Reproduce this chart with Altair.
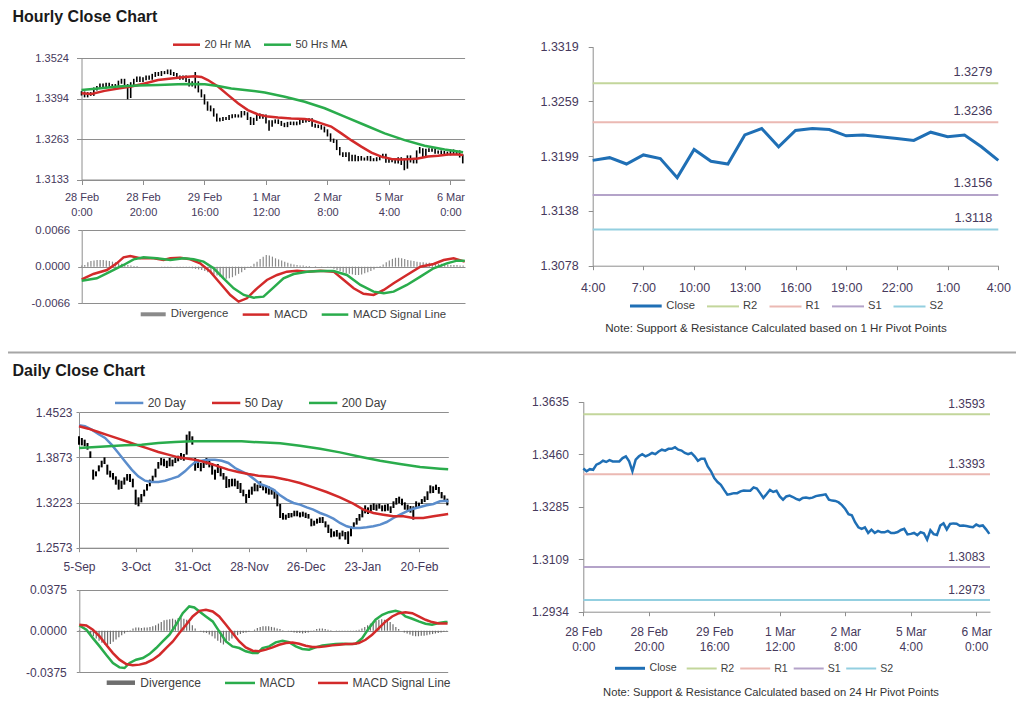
import math
import altair as alt
import pandas as pd

# ------------------------------------------------------------------ data
section_titles = ["Hourly Close Chart", "Daily Close Chart"]
notes = ["Note: Support & Resistance Calculated based on 1 Hr Pivot Points",
         "Note: Support & Resistance Calculated based on 24 Hr Pivot Points"]

hourly_tick_pos = [0, 20, 40, 60, 80, 100, 120]
hourly_tick_labels = ["28 Feb|0:00", "28 Feb|20:00", "29 Feb|16:00", "1 Mar|12:00",
                      "2 Mar|8:00", "5 Mar|4:00", "6 Mar|0:00"]
session_tick_pos = [0, 3, 6, 9, 12, 15, 18, 21, 24]
session_tick_labels = ["4:00", "7:00", "10:00", "13:00", "16:00", "19:00", "22:00", "1:00", "4:00"]
daily_tick_pos = [0, 20, 40, 60, 80, 100, 120]
daily_tick_labels = ["5-Sep", "3-Oct", "31-Oct", "28-Nov", "26-Dec", "23-Jan", "20-Feb"]

hour_idx = list(range(125))
hourly_close = [
    1.3412, 1.3403, 1.3410, 1.3408, 1.3425, 1.3430, 1.3438, 1.3434, 1.3440, 1.3436,
    1.3436, 1.3436, 1.3447, 1.3453, 1.3436, 1.3403, 1.3442, 1.3453, 1.3460, 1.3453,
    1.3458, 1.3464, 1.3460, 1.3469, 1.3475, 1.3472, 1.3478, 1.3478, 1.3483, 1.3475,
    1.3472, 1.3464, 1.3460, 1.3464, 1.3453, 1.3438, 1.3445, 1.3445, 1.3419, 1.3403,
    1.3380, 1.3367, 1.3358, 1.3341, 1.3325, 1.3327, 1.3330, 1.3330, 1.3336, 1.3339,
    1.3338, 1.3338, 1.3349, 1.3345, 1.3330, 1.3314, 1.3327, 1.3341, 1.3334, 1.3338,
    1.3319, 1.3308, 1.3319, 1.3322, 1.3317, 1.3311, 1.3307, 1.3314, 1.3315, 1.3313,
    1.3315, 1.3320, 1.3322, 1.3324, 1.3326, 1.3308, 1.3305, 1.3304, 1.3299, 1.3290,
    1.3277, 1.3260, 1.3256, 1.3233, 1.3216, 1.3211, 1.3216, 1.3197, 1.3208, 1.3197,
    1.3204, 1.3199, 1.3199, 1.3204, 1.3197, 1.3197, 1.3200, 1.3207, 1.3211, 1.3192,
    1.3194, 1.3197, 1.3190, 1.3200, 1.3196, 1.3175, 1.3206, 1.3193, 1.3190, 1.3222,
    1.3229, 1.3209, 1.3227, 1.3229, 1.3228, 1.3221, 1.3222, 1.3220, 1.3218, 1.3216,
    1.3225, 1.3220, 1.3222, 1.3209, 1.3194]
hourly_high = [
    1.3418, 1.3417, 1.3415, 1.3415, 1.3430, 1.3435, 1.3443, 1.3443, 1.3445, 1.3445,
    1.3441, 1.3441, 1.3452, 1.3458, 1.3458, 1.3441, 1.3447, 1.3458, 1.3465, 1.3465,
    1.3463, 1.3469, 1.3469, 1.3474, 1.3480, 1.3480, 1.3483, 1.3483, 1.3488, 1.3488,
    1.3480, 1.3477, 1.3469, 1.3469, 1.3469, 1.3458, 1.3450, 1.3480, 1.3450, 1.3424,
    1.3408, 1.3385, 1.3372, 1.3363, 1.3346, 1.3332, 1.3335, 1.3335, 1.3341, 1.3344,
    1.3344, 1.3343, 1.3354, 1.3354, 1.3350, 1.3335, 1.3332, 1.3346, 1.3346, 1.3343,
    1.3343, 1.3324, 1.3324, 1.3327, 1.3327, 1.3322, 1.3316, 1.3319, 1.3320, 1.3320,
    1.3320, 1.3325, 1.3327, 1.3329, 1.3331, 1.3331, 1.3313, 1.3310, 1.3309, 1.3304,
    1.3295, 1.3282, 1.3265, 1.3261, 1.3238, 1.3221, 1.3221, 1.3221, 1.3213, 1.3213,
    1.3209, 1.3209, 1.3204, 1.3209, 1.3209, 1.3202, 1.3205, 1.3212, 1.3216, 1.3216,
    1.3199, 1.3202, 1.3202, 1.3205, 1.3205, 1.3201, 1.3211, 1.3211, 1.3198, 1.3227,
    1.3238, 1.3234, 1.3232, 1.3234, 1.3234, 1.3233, 1.3227, 1.3227, 1.3225, 1.3223,
    1.3230, 1.3230, 1.3227, 1.3227, 1.3214]
hourly_low = [
    1.3404, 1.3398, 1.3398, 1.3403, 1.3403, 1.3420, 1.3425, 1.3429, 1.3429, 1.3431,
    1.3431, 1.3431, 1.3431, 1.3442, 1.3431, 1.3392, 1.3396, 1.3437, 1.3448, 1.3448,
    1.3448, 1.3453, 1.3455, 1.3455, 1.3464, 1.3467, 1.3467, 1.3473, 1.3473, 1.3470,
    1.3467, 1.3459, 1.3455, 1.3455, 1.3448, 1.3433, 1.3433, 1.3427, 1.3414, 1.3398,
    1.3375, 1.3355, 1.3353, 1.3336, 1.3320, 1.3320, 1.3322, 1.3325, 1.3325, 1.3331,
    1.3333, 1.3333, 1.3333, 1.3340, 1.3325, 1.3309, 1.3309, 1.3322, 1.3329, 1.3329,
    1.3314, 1.3290, 1.3303, 1.3314, 1.3312, 1.3306, 1.3302, 1.3302, 1.3309, 1.3308,
    1.3308, 1.3310, 1.3315, 1.3317, 1.3319, 1.3303, 1.3300, 1.3299, 1.3294, 1.3285,
    1.3272, 1.3255, 1.3251, 1.3228, 1.3211, 1.3206, 1.3206, 1.3192, 1.3192, 1.3192,
    1.3192, 1.3194, 1.3194, 1.3194, 1.3192, 1.3192, 1.3192, 1.3195, 1.3202, 1.3187,
    1.3187, 1.3189, 1.3185, 1.3185, 1.3180, 1.3163, 1.3168, 1.3188, 1.3185, 1.3185,
    1.3217, 1.3204, 1.3204, 1.3222, 1.3223, 1.3216, 1.3216, 1.3215, 1.3213, 1.3211,
    1.3211, 1.3215, 1.3215, 1.3204, 1.3185]

ma20h_x = [0, 3.2, 7.5, 11.9, 16.2, 20.5, 24.9, 29.2, 33.6, 36.8, 39.0, 41.1, 44.4, 47.6, 50.9,
           54.1, 57.4, 60.7, 63.9, 68.2, 72.6, 74.7, 78.0, 81.2, 84.5, 87.7, 91.0, 94.3, 97.5,
           100.8, 104.0, 107.3, 109.4, 112.7, 116.0, 119.2, 122.4, 124.1]
ma20h = [1.3411, 1.3409, 1.3419, 1.3427, 1.3433, 1.3443, 1.3454, 1.3459, 1.3464, 1.3466,
         1.3464, 1.3454, 1.3433, 1.3406, 1.3379, 1.3357, 1.3343, 1.3336, 1.3333, 1.3330,
         1.3328, 1.3325, 1.3314, 1.3304, 1.3282, 1.3260, 1.3239, 1.3220, 1.3207, 1.3199,
         1.3198, 1.3199, 1.3201, 1.3207, 1.3210, 1.3214, 1.3214, 1.3212]
ma50h_x = [0, 5.4, 11.9, 18.4, 24.9, 31.4, 35.7, 40.1, 44.4, 48.7, 53.1, 59.6, 66.1, 72.6,
           79.1, 85.6, 92.1, 98.6, 105.1, 111.6, 118.1, 124.1]
ma50h = [1.3422, 1.3427, 1.3433, 1.3436, 1.3438, 1.3440, 1.3441, 1.3440, 1.3435, 1.3427,
         1.3422, 1.3414, 1.3400, 1.3384, 1.3363, 1.3336, 1.3309, 1.3282, 1.3260, 1.3242,
         1.3230, 1.3221]

macdh_x = [0, 3.8, 8.2, 11.4, 13.6, 15.8, 19.0, 23.4, 26.6, 28.8, 32.0, 35.3, 38.5, 41.8,
           45.0, 48.3, 51.0, 53.7, 57.0, 60.2, 63.5, 66.7, 70.0, 73.2, 77.6, 81.9, 85.2, 88.4,
           91.6, 94.9, 98.2, 101.4, 105.7, 110.1, 114.4, 117.7, 120.9, 124.5]
macdh = [-0.00228, -0.00132, -0.0006, 0.0006, 0.00168, 0.00192, 0.0015, 0.0015, 0.0012,
         0.0015, 0.00162, 0.00132, 0.0006, -0.0009, -0.003, -0.0051, -0.0063, -0.0057,
         -0.0039, -0.0024, -0.0015, -0.0009, -0.00072, -0.0009, -0.00072, -0.0009, -0.0024,
         -0.0039, -0.0049, -0.0051, -0.0042, -0.003, -0.0015, 0.0, 0.00048, 0.0012, 0.0015,
         0.0009]
sigh_x = [0, 4.9, 9.3, 13.6, 16.9, 20.1, 24.4, 28.8, 33.1, 36.4, 39.6, 42.9, 46.1, 49.4,
          52.7, 55.9, 59.1, 62.4, 65.6, 68.9, 73.2, 77.6, 81.9, 86.2, 90.6, 94.9, 98.2,
          101.4, 105.7, 110.1, 114.4, 118.7, 122.0, 124.5]
sigh = [-0.00252, -0.0021, -0.0009, 0.0003, 0.00132, 0.00168, 0.0015, 0.0012, 0.0015,
        0.00132, 0.0009, -0.0003, -0.0021, -0.0039, -0.0051, -0.00558, -0.0054, -0.00372,
        -0.0021, -0.00132, -0.0009, -0.00078, -0.00078, -0.0015, -0.0033, -0.0045, -0.0048,
        -0.0045, -0.0033, -0.0018, -0.0003, 0.0006, 0.00108, 0.00108]
divh = [
    0.0002, 0.0003, 0.0008, 0.0010, 0.0011, 0.0012, 0.0012, 0.0012, 0.0011, 0.0010,
    0.0009, 0.0008, 0.0006, 0.0005, 0.0004, 0.0003, 0.0002, 0.0001, 0.0001, 0.0000,
    0.0000, 0.0000, 0.0000, 0.0000, 0.0000, 0.0000, -0.0001, -0.0001, -0.0001, -0.0001,
    0.0000, -0.0001, -0.0001, -0.0001, -0.0001, -0.0002, -0.0003, -0.0004, -0.0005, -0.0006,
    -0.0008, -0.0010, -0.0012, -0.0014, -0.0016, -0.0018, -0.0020, -0.0022, -0.0021, -0.0019,
    -0.0016, -0.0013, -0.0010, -0.0006, -0.0002, 0.0001, 0.0005, 0.0009, 0.0014, 0.0018,
    0.0021, 0.0020, 0.0018, 0.0015, 0.0013, 0.0011, 0.0009, 0.0007, 0.0005, 0.0004,
    0.0003, 0.0002, 0.0002, 0.0001, 0.0001, 0.0000, 0.0001, 0.0000, -0.0001, 0.0000,
    -0.0001, -0.0002, -0.0004, -0.0006, -0.0008, -0.0010, -0.0012, -0.0013, -0.0014, -0.0015,
    -0.0015, -0.0014, -0.0012, -0.0010, -0.0008, -0.0005, -0.0002, 0.0001, 0.0004, 0.0008,
    0.0011, 0.0014, 0.0016, 0.0016, 0.0015, 0.0014, 0.0012, 0.0011, 0.0010, 0.0009,
    0.0008, 0.0008, 0.0007, 0.0007, 0.0006, 0.0006, 0.0005, 0.0005, 0.0004, 0.0004,
    0.0003, 0.0003, 0.0003, 0.0002, 0.0002]

session_idx = list(range(25))
session_close = [1.3194, 1.3197, 1.3190, 1.3200, 1.3196, 1.3175, 1.3206, 1.3193, 1.3190,
                 1.3222, 1.3229, 1.3209, 1.3227, 1.3229, 1.3228, 1.3221, 1.3222, 1.3220,
                 1.3218, 1.3216, 1.3225, 1.3220, 1.3222, 1.3209, 1.3194]
pivot_names = ["R2", "R1", "S1", "S2"]
pivots_1h = [1.3279, 1.3236, 1.3156, 1.3118]
pivots_24h = [1.3593, 1.3393, 1.3083, 1.2973]

day_idx = list(range(131))
daily_high = [
    1.4177, 1.4153, 1.4129, 1.4081, 1.3961, 1.3697, 1.3673, 1.3759, 1.3826, 1.3874,
    1.3769, 1.3682, 1.3649, 1.3601, 1.3553, 1.3538, 1.3586, 1.3634, 1.3634, 1.3567,
    1.3409, 1.3298, 1.3346, 1.3409, 1.3490, 1.3553, 1.3610, 1.3711, 1.3807, 1.3865,
    1.3855, 1.3826, 1.3865, 1.3841, 1.3865, 1.3898, 1.3937, 1.3922, 1.4201, 1.4249,
    1.4177, 1.3865, 1.3841, 1.3793, 1.3817, 1.3865, 1.3841, 1.3793, 1.3697, 1.3778,
    1.3721, 1.3649, 1.3601, 1.3562, 1.3567, 1.3567, 1.3538, 1.3505, 1.3409, 1.3346,
    1.3409, 1.3452, 1.3500, 1.3481, 1.3529, 1.3490, 1.3471, 1.3457, 1.3433, 1.3409,
    1.3361, 1.3202, 1.3073, 1.3049, 1.3073, 1.3073, 1.3106, 1.3106, 1.3082, 1.3092,
    1.3078, 1.3058, 1.2991, 1.2962, 1.2991, 1.3010, 1.3015, 1.2953, 1.2905, 1.2847,
    1.2809, 1.2828, 1.2790, 1.2819, 1.2799, 1.2809, 1.2881, 1.2938, 1.3001, 1.3058,
    1.3121, 1.3183, 1.3154, 1.3193, 1.3212, 1.3197, 1.3207, 1.3183, 1.3193, 1.3202,
    1.3169, 1.3241, 1.3289, 1.3308, 1.3279, 1.3226, 1.3193, 1.3174, 1.3169, 1.3241,
    1.3222, 1.3274, 1.3313, 1.3385, 1.3471, 1.3457, 1.3481, 1.3447, 1.3375, 1.3327,
    1.3279]
daily_low = [
    1.4057, 1.4047, 1.4033, 1.3985, 1.3865, 1.3553, 1.3601, 1.3673, 1.3730, 1.3778,
    1.3625, 1.3586, 1.3553, 1.3481, 1.3409, 1.3418, 1.3481, 1.3538, 1.3519, 1.3442,
    1.3193, 1.3169, 1.3226, 1.3313, 1.3395, 1.3457, 1.3505, 1.3586, 1.3711, 1.3759,
    1.3745, 1.3721, 1.3745, 1.3745, 1.3793, 1.3817, 1.3841, 1.3826, 1.3913, 1.4105,
    1.4057, 1.3682, 1.3721, 1.3673, 1.3721, 1.3769, 1.3730, 1.3625, 1.3553, 1.3649,
    1.3601, 1.3553, 1.3433, 1.3442, 1.3457, 1.3457, 1.3418, 1.3361, 1.3313, 1.3217,
    1.3289, 1.3337, 1.3385, 1.3385, 1.3433, 1.3399, 1.3356, 1.3337, 1.3337, 1.3279,
    1.3169, 1.3001, 1.2977, 1.2977, 1.3001, 1.3010, 1.3025, 1.3025, 1.3010, 1.3020,
    1.3001, 1.2991, 1.2881, 1.2890, 1.2919, 1.2929, 1.2929, 1.2866, 1.2785, 1.2722,
    1.2732, 1.2732, 1.2694, 1.2737, 1.2689, 1.2626, 1.2737, 1.2842, 1.2905, 1.2962,
    1.3010, 1.3068, 1.3058, 1.3097, 1.3116, 1.3106, 1.3135, 1.3097, 1.3097, 1.3106,
    1.3073, 1.3145, 1.3193, 1.3212, 1.3183, 1.3121, 1.3087, 1.3078, 1.2977, 1.3145,
    1.3150, 1.3202, 1.3231, 1.3260, 1.3356, 1.3361, 1.3404, 1.3351, 1.3284, 1.3231,
    1.3183]

ma20d_x = [0, 2.1, 4.5, 6.8, 9.2, 11.5, 13.9, 16.2, 18.6, 20.9, 23.3, 25.6, 28.0, 30.4, 32.7,
           35.1, 37.4, 39.2, 40.9, 43.3, 45.6, 48.0, 50.4, 52.7, 55.1, 57.4, 59.8, 62.1, 63.9,
           66.3, 68.6, 71.0, 73.3, 75.7, 78.0, 80.4, 82.7, 85.1, 87.4, 89.8, 92.1, 94.5, 96.8,
           99.2, 101.5, 103.9, 106.3, 108.6, 111.0, 113.3, 115.7, 118.0, 120.4, 122.7, 125.1,
           127.4, 129.8, 130.3]
ma20d = [1.4335, 1.4321, 1.4273, 1.4211, 1.4153, 1.4057, 1.3937, 1.3817, 1.3697, 1.3601,
         1.3538, 1.3519, 1.3519, 1.3538, 1.3567, 1.3601, 1.3673, 1.3745, 1.3802, 1.3826,
         1.3841, 1.3841, 1.3826, 1.3793, 1.3721, 1.3673, 1.3625, 1.3553, 1.3490, 1.3457,
         1.3409, 1.3327, 1.3265, 1.3217, 1.3193, 1.3154, 1.3121, 1.3073, 1.3039, 1.2991,
         1.2929, 1.2881, 1.2857, 1.2857, 1.2866, 1.2881, 1.2905, 1.2943, 1.3001, 1.3049,
         1.3097, 1.3135, 1.3159, 1.3183, 1.3202, 1.3241, 1.3250, 1.3231]
ma50d_x = [0, 3.3, 6.8, 10.4, 13.9, 17.4, 20.9, 24.5, 28.0, 31.5, 35.1, 38.6, 42.1, 45.6,
           49.2, 52.7, 56.2, 59.8, 63.3, 68.6, 73.3, 78.0, 82.7, 87.4, 92.1, 96.8, 100.4,
           103.9, 107.4, 111.0, 114.5, 118.0, 121.5, 125.1, 128.6, 130.3]
ma50d = [1.4321, 1.4287, 1.4239, 1.4191, 1.4143, 1.4095, 1.4047, 1.3999, 1.3951, 1.3913,
         1.3874, 1.3855, 1.3831, 1.3793, 1.3745, 1.3697, 1.3663, 1.3634, 1.3610, 1.3591,
         1.3553, 1.3505, 1.3442, 1.3375, 1.3298, 1.3207, 1.3121, 1.3073, 1.3049, 1.3025,
         1.3025, 1.3001, 1.3001, 1.3025, 1.3049, 1.3058]
ma200d_x = [0, 4.5, 10.4, 16.2, 22.1, 28.0, 33.9, 39.8, 45.6, 51.5, 57.4, 63.9, 71.0, 78.0,
            85.1, 92.1, 99.2, 106.3, 113.3, 120.4, 127.4, 130.3]
ma200d = [1.4009, 1.4018, 1.4033, 1.4047, 1.4057, 1.4081, 1.4095, 1.4105, 1.4105, 1.4105,
          1.4105, 1.4090, 1.4076, 1.4042, 1.3999, 1.3946, 1.3884, 1.3826, 1.3778, 1.3735,
          1.3711, 1.3702]

macdd_x = [0, 2.5, 4.8, 7.2, 9.5, 11.9, 14.2, 16.0, 17.8, 20.1, 22.5, 24.8, 27.2, 29.5, 31.9,
           34.2, 36.6, 38.9, 40.7, 42.5, 44.8, 47.2, 49.5, 51.9, 54.2, 56.6, 58.9, 61.3, 63.1,
           64.8, 67.2, 69.5, 71.9, 74.2, 76.6, 78.9, 81.3, 83.6, 86.0, 88.4, 90.7, 93.1, 95.4,
           97.8, 100.1, 102.5, 104.8, 107.2, 109.5, 111.9, 113.6, 115.4, 117.8, 120.1, 122.5,
           124.8, 127.2, 129.5, 130.3]
macdd = [0.0048, 0.0009, -0.0067, -0.0142, -0.0218, -0.0293, -0.0333, -0.0339, -0.0293,
         -0.0263, -0.0248, -0.0212, -0.0157, -0.0097, -0.0036, 0.0054, 0.0160, 0.0221, 0.0212,
         0.0175, 0.0130, 0.0085, -0.0006, -0.0097, -0.0142, -0.0157, -0.0187, -0.0203, -0.0203,
         -0.0157, -0.0142, -0.0106, -0.0091, -0.0103, -0.0142, -0.0166, -0.0172, -0.0151,
         -0.0133, -0.0127, -0.0121, -0.0118, -0.0121, -0.0118, -0.0067, 0.0024, 0.0100, 0.0145,
         0.0169, 0.0181, 0.0169, 0.0130, 0.0109, 0.0085, 0.0064, 0.0054, 0.0070, 0.0079, 0.0080]
sigd_x = [0, 2.5, 4.8, 7.2, 9.5, 11.9, 14.2, 16.6, 18.9, 21.3, 23.6, 26.0, 28.4, 30.7, 33.1,
          35.4, 37.8, 40.1, 42.5, 44.8, 47.2, 49.5, 51.9, 54.2, 56.6, 58.9, 61.3, 63.6, 66.0,
          68.4, 70.7, 73.1, 75.4, 77.8, 80.1, 82.5, 84.8, 87.2, 89.5, 91.9, 94.2, 96.6, 98.9,
          101.3, 103.6, 106.0, 108.4, 110.7, 113.1, 115.4, 117.8, 120.1, 122.5, 124.8, 127.2,
          129.5, 130.3]
sigd = [0.0054, 0.0048, 0.0009, -0.0051, -0.0127, -0.0203, -0.0263, -0.0302, -0.0314, -0.0308,
        -0.0293, -0.0263, -0.0218, -0.0157, -0.0097, -0.0021, 0.0054, 0.0130, 0.0181, 0.0191,
        0.0175, 0.0130, 0.0054, -0.0021, -0.0097, -0.0151, -0.0181, -0.0187, -0.0172, -0.0151,
        -0.0127, -0.0112, -0.0106, -0.0118, -0.0136, -0.0148, -0.0148, -0.0142, -0.0133,
        -0.0127, -0.0121, -0.0121, -0.0112, -0.0082, -0.0036, 0.0024, 0.0085, 0.0130, 0.0160,
        0.0169, 0.0160, 0.0130, 0.0100, 0.0079, 0.0067, 0.0067, 0.0067]
divd = [
    0.0005, 0.0, -0.001, -0.002, -0.0035, -0.005, -0.007, -0.009, -0.011, -0.0125,
    -0.013, -0.012, -0.010, -0.008, -0.006, -0.004, -0.0025, -0.001, 0.0005, 0.002,
    0.003, 0.003, 0.0025, 0.003, 0.003, 0.0035, 0.004, 0.005, 0.0065, 0.008,
    0.0095, 0.010, 0.0105, 0.011, 0.010, 0.0115, 0.012, 0.011, 0.010, 0.008,
    0.005, 0.002, 0.0, -0.001, -0.0015, -0.002, -0.0035, -0.005, -0.007, -0.009,
    -0.011, -0.0125, -0.011, -0.009, -0.007, -0.0055, -0.004, -0.003, -0.002, -0.0015,
    -0.001, 0.0, 0.001, 0.0025, 0.0035, 0.004, 0.004, 0.004, 0.0035, 0.003,
    0.002, 0.0015, 0.0005, 0.0, -0.0005, -0.001, -0.0015, -0.002, -0.002, -0.0025,
    -0.002, -0.0015, -0.0005, 0.0005, 0.0015, 0.002, 0.002, 0.0015, 0.001, 0.0005,
    0.0, 0.0003, 0.0003, 0.0002, 0.0002, 0.0003, 0.0002, 0.0002, 0.0005, 0.001,
    0.002, 0.0035, 0.005, 0.0065, 0.008, 0.009, 0.010, 0.0105, 0.010, 0.0095,
    0.008, 0.006, 0.0035, 0.0015, 0.0, -0.0015, -0.0025, -0.0035, -0.0045, -0.005,
    -0.005, -0.0045, -0.0045, -0.004, -0.0035, -0.003, -0.0025, -0.002, -0.0015, -0.001,
    -0.0005]

# ------------------------------------------------------------------ styling / layout
W, H = 1008, 690
M = 8  # page margin: reference pixel -> chart pixel


def px(v):
    return v - M


FONT = "Liberation Sans"
AXIS_GRAY = "#8e8e8e"
LABEL_COLOR = "#46395c"
LEGEND_TEXT = "#404040"
RED = "#d22a2a"
GREEN = "#2aac4c"
BLUE_MA = "#5b8dcc"
CLOSE_BLUE = "#1f6fb5"
DIV_GRAY = "#8a8a8a"
PIVOT_COLORS = ["#c3d69b", "#ebb9b3", "#b4a3c9", "#93cfe0"]

PANELS = {
    "hp": dict(x=(81.5, 464.6), xd=(0, 124.6), y=(179.5, 58.3), yd=(1.31331, 1.35241)),
    "hm": dict(x=(81.7, 465.0), xd=(0, 124.6), y=(303.3, 230.0), yd=(-0.0066, 0.0066)),
    "hr": dict(x=(592.7, 998.3), xd=(0, 24), y=(265.7, 46.7), yd=(1.30781, 1.33191)),
    "dp": dict(x=(79.0, 448.3), xd=(0, 130.35), y=(547.7, 412.3), yd=(1.2573, 1.4523)),
    "dm": dict(x=(79.3, 447.7), xd=(0, 130.35), y=(672.0, 589.5), yd=(-0.0375, 0.0375)),
    "dr": dict(x=(583.3, 990.0), xd=(0, 124.2), y=(611.7, 401.7), yd=(1.29342, 1.36352)),
}


def xscale(p):
    P = PANELS[p]
    return alt.Scale(domain=list(P["xd"]), range=[px(P["x"][0]), px(P["x"][1])],
                     nice=False, zero=False, clamp=True)


def yscale(p):
    P = PANELS[p]
    return alt.Scale(domain=list(P["yd"]), range=[px(P["y"][0]), px(P["y"][1])],
                     nice=False, zero=False)


def even_ticks(p, n):
    d0, d1 = PANELS[p]["yd"]
    return [d0 + (d1 - d0) * k / (n - 1) for k in range(n)]


FMT = "replace(format(datum.value, '.4f'), '\u2212', '-')"


def y_axis(p, values, tick, pad, fs, grid=True):
    P = PANELS[p]
    return alt.Axis(orient="left", offset=-px(P["x"][0]), values=values, labelExpr=FMT,
                    grid=grid, gridColor=AXIS_GRAY, gridWidth=1, domainColor=AXIS_GRAY,
                    tickColor=AXIS_GRAY, tickSize=tick, labelPadding=pad, labelFont=FONT,
                    labelFontSize=fs, labelColor=LABEL_COLOR, title=None, labelFlush=False,
                    labelOverlap=False)


def label_expr(labels, step):
    parts = []
    for lab in labels:
        pieces = lab.split("|")
        parts.append("[" + ",".join("'" + s + "'" for s in pieces) + "]")
    return "[" + ",".join(parts) + "][round(datum.value/" + str(step) + ")]"


def x_axis(p, values, labels, step, tick, pad, fs, lh=15):
    P = PANELS[p]
    return alt.Axis(orient="bottom", offset=px(P["y"][0]) - H, values=values,
                    labelExpr=label_expr(labels, step), grid=False, domainColor=AXIS_GRAY,
                    tickColor=AXIS_GRAY, tickSize=tick, labelPadding=pad, labelFont=FONT,
                    labelFontSize=fs, labelColor=LABEL_COLOR, labelLineHeight=lh,
                    labelFlush=False, labelOverlap=False, labelBound=False, title=None)


def make_legend(left, cy, length, sw, colpad, fs):
    box = math.ceil(length + sw)
    return alt.Legend(orient="none", legendX=px(left - (box - length) / 2), legendY=px(cy - box / 2),
                      direction="horizontal", title=None, symbolType="stroke",
                      symbolSize=length * length, symbolStrokeWidth=sw, labelFont=FONT,
                      labelFontSize=fs, labelColor=LEGEND_TEXT, labelOffset=3,
                      columnPadding=colpad, padding=0, offset=0)


def series(xs, ys, name):
    return pd.DataFrame({"x": xs, "v": ys, "s": name})


one = pd.DataFrame({"k": [0]})

# ------------------------------------------------------------------ decorations
sep = alt.Chart(one).mark_rule(color="#a6a6a6", strokeWidth=2).encode(
    x=alt.value(0), x2=alt.value(W), y=alt.value(px(352.5)))


def text_layer(t, x, y, size, weight="normal", align="left", color="#1a1a1a"):
    return alt.Chart(pd.DataFrame({"t": [t]})).mark_text(
        align=align, baseline="alphabetic", font=FONT, fontSize=size, fontWeight=weight,
        color=color).encode(text="t:N", x=alt.value(px(x)), y=alt.value(px(y)))


title1 = text_layer(section_titles[0], 12.5, 21.7, 16, "bold")
title2 = text_layer(section_titles[1], 12.5, 375.7, 16, "bold")
note1 = text_layer(notes[0], 776, 332, 11.6, align="center", color="#333333")
note2 = text_layer(notes[1], 771, 695.5, 11.2, align="center", color="#333333")

# ------------------------------------------------------------------ hourly price
hourly = pd.DataFrame({"i": hour_idx, "c": hourly_close, "hi": hourly_high, "lo": hourly_low})
hp_candles = alt.Chart(hourly).mark_rule(color="#000000", strokeWidth=1.6).encode(
    x=alt.X("i:Q", scale=xscale("hp"),
            axis=x_axis("hp", hourly_tick_pos, hourly_tick_labels, 20, 5, 7, 11)),
    y=alt.Y("lo:Q", scale=yscale("hp"), axis=y_axis("hp", even_ticks("hp", 4), 5, 8, 11)),
    y2="hi:Q")
hp_ma_df = pd.concat([series(ma20h_x, ma20h, "20 Hr MA"), series(ma50h_x, ma50h, "50 Hrs MA")])
hp_ma = alt.Chart(hp_ma_df).mark_line(strokeWidth=2.5).encode(
    x=alt.X("x:Q", scale=xscale("hp"), axis=None),
    y=alt.Y("v:Q", scale=yscale("hp"), axis=None),
    color=alt.Color("s:N", scale=alt.Scale(domain=["20 Hr MA", "50 Hrs MA"], range=[RED, GREEN]),
                    legend=make_legend(173, 44.7, 27, 2.5, 7, 11)))

# ------------------------------------------------------------------ hourly MACD
hm_div = alt.Chart(pd.DataFrame({"i": hour_idx, "d": divh, "z": 0.0, "s": "Divergence"})).mark_rule(
    strokeWidth=1.2).encode(
    x=alt.X("i:Q", scale=xscale("hm"), axis=None),
    y=alt.Y("d:Q", scale=yscale("hm"), axis=y_axis("hm", [-0.0066, 0.0, 0.0066], 4, 8, 11.4)),
    y2="z:Q",
    color=alt.Color("s:N", scale=alt.Scale(domain=["Divergence"], range=[DIV_GRAY]),
                    legend=make_legend(140.7, 314.3, 25, 4, 10, 11.4)))
hm_df = pd.concat([series(macdh_x, macdh, "MACD"), series(sigh_x, sigh, "MACD Signal Line")])
hm_lines = alt.Chart(hm_df).mark_line(strokeWidth=2.5).encode(
    x=alt.X("x:Q", scale=xscale("hm"), axis=None),
    y=alt.Y("v:Q", scale=yscale("hm"), axis=None),
    color=alt.Color("s:N", scale=alt.Scale(domain=["MACD", "MACD Signal Line"], range=[RED, GREEN]),
                    legend=make_legend(242.7, 314.3, 26.6, 2.5, 8, 11.4)))

# ------------------------------------------------------------------ hourly pivots (right)
piv1 = pd.DataFrame({"s": pivot_names, "v": pivots_1h, "x0": 0, "x1": 24})
hr_piv = alt.Chart(piv1).mark_rule(strokeWidth=2).encode(
    x=alt.X("x0:Q", scale=xscale("hr"), axis=None), x2="x1:Q",
    y=alt.Y("v:Q", scale=yscale("hr"), axis=None),
    color=alt.Color("s:N", scale=alt.Scale(domain=pivot_names, range=PIVOT_COLORS),
                    legend=make_legend(707, 306, 32, 2, 7.5, 11.2)))
hr_close = alt.Chart(pd.DataFrame({"h": session_idx, "c": session_close, "s": "Close"})).mark_line(
    strokeWidth=3).encode(
    x=alt.X("h:Q", scale=xscale("hr"),
            axis=x_axis("hr", session_tick_pos, session_tick_labels, 3, 4, 12, 12.5)),
    y=alt.Y("c:Q", scale=yscale("hr"), axis=y_axis("hr", even_ticks("hr", 5), 4.5, 10, 12.5, grid=False)),
    color=alt.Color("s:N", scale=alt.Scale(domain=["Close"], range=[CLOSE_BLUE]),
                    legend=make_legend(630, 306, 31.7, 3.2, 10, 11.2)))
hr_lbl = alt.Chart(piv1).mark_text(align="right", baseline="middle", dx=-6, dy=-11.6, font=FONT,
                                   fontSize=12.7, color=LABEL_COLOR).encode(
    x=alt.X("x1:Q", scale=xscale("hr"), axis=None),
    y=alt.Y("v:Q", scale=yscale("hr"), axis=None),
    text=alt.Text("v:Q", format=".4f"))

# ------------------------------------------------------------------ daily price
daily = pd.DataFrame({"i": day_idx, "hi": daily_high, "lo": daily_low})
dp_candles = alt.Chart(daily).mark_rule(color="#000000", strokeWidth=2).encode(
    x=alt.X("i:Q", scale=xscale("dp"),
            axis=x_axis("dp", daily_tick_pos, daily_tick_labels, 20, 4, 10, 12)),
    y=alt.Y("lo:Q", scale=yscale("dp"), axis=y_axis("dp", even_ticks("dp", 4), 3, 4, 12)),
    y2="hi:Q")
dp_ma_df = pd.concat([series(ma20d_x, ma20d, "20 Day"), series(ma50d_x, ma50d, "50 Day"),
                      series(ma200d_x, ma200d, "200 Day")])
dp_ma = alt.Chart(dp_ma_df).mark_line(strokeWidth=2.5).encode(
    x=alt.X("x:Q", scale=xscale("dp"), axis=None),
    y=alt.Y("v:Q", scale=yscale("dp"), axis=None),
    color=alt.Color("s:N", scale=alt.Scale(domain=["20 Day", "50 Day", "200 Day"],
                                           range=[BLUE_MA, RED, GREEN]),
                    legend=make_legend(115, 402.7, 28.3, 2.5, 20, 12)))

# ------------------------------------------------------------------ daily MACD
dm_div = alt.Chart(pd.DataFrame({"i": day_idx, "d": divd, "z": 0.0, "s": "Divergence"})).mark_rule(
    strokeWidth=1.2).encode(
    x=alt.X("i:Q", scale=xscale("dm"), axis=None),
    y=alt.Y("d:Q", scale=yscale("dm"), axis=y_axis("dm", [-0.0375, 0.0, 0.0375], 3, 10, 12)),
    y2="z:Q",
    color=alt.Color("s:N", scale=alt.Scale(domain=["Divergence"], range=["#6e6e6e"]),
                    legend=make_legend(106.7, 682.7, 28.3, 4.5, 10, 12)))
dm_df = pd.concat([series(macdd_x, macdd, "MACD"), series(sigd_x, sigd, "MACD Signal Line")])
dm_lines = alt.Chart(dm_df).mark_line(strokeWidth=2.5).encode(
    x=alt.X("x:Q", scale=xscale("dm"), axis=None),
    y=alt.Y("v:Q", scale=yscale("dm"), axis=None),
    color=alt.Color("s:N", scale=alt.Scale(domain=["MACD", "MACD Signal Line"], range=[GREEN, RED]),
                    legend=make_legend(225, 682.7, 30, 2.5, 17, 12)))

# ------------------------------------------------------------------ 24h pivots (right)
piv24 = pd.DataFrame({"s": pivot_names, "v": pivots_24h, "x0": 0, "x1": 124.2})
dr_piv = alt.Chart(piv24).mark_rule(strokeWidth=2).encode(
    x=alt.X("x0:Q", scale=xscale("dr"), axis=None), x2="x1:Q",
    y=alt.Y("v:Q", scale=yscale("dr"), axis=None),
    color=alt.Color("s:N", scale=alt.Scale(domain=pivot_names, range=PIVOT_COLORS),
                    legend=make_legend(686.7, 668.3, 30, 2, 1.5, 10.6)))
dr_close = alt.Chart(pd.DataFrame({"i": hour_idx, "c": hourly_close, "s": "Close"})).mark_line(
    strokeWidth=2.5).encode(
    x=alt.X("i:Q", scale=xscale("dr"),
            axis=x_axis("dr", hourly_tick_pos, hourly_tick_labels, 20, 4, 11, 12)),
    y=alt.Y("c:Q", scale=yscale("dr"), axis=y_axis("dr", even_ticks("dr", 5), 5, 10, 12, grid=False)),
    color=alt.Color("s:N", scale=alt.Scale(domain=["Close"], range=[CLOSE_BLUE]),
                    legend=make_legend(615, 668.3, 30, 3, 10, 10.6)))
dr_lbl = alt.Chart(piv24).mark_text(align="right", baseline="middle", dx=-5, dy=-10.4, font=FONT,
                                    fontSize=12, color=LABEL_COLOR).encode(
    x=alt.X("x1:Q", scale=xscale("dr"), axis=None),
    y=alt.Y("v:Q", scale=yscale("dr"), axis=None),
    text=alt.Text("v:Q", format=".4f"))

layers = [sep, title1, title2, note1, note2,
          hp_candles, hp_ma, hm_div, hm_lines,
          hr_piv, hr_close, hr_lbl,
          dp_candles, dp_ma, dm_div, dm_lines,
          dr_piv, dr_close, dr_lbl]

chart = (alt.layer(*layers)
         .resolve_scale(x="independent", y="independent", color="independent")
         .resolve_axis(x="independent", y="independent")
         .resolve_legend(color="independent")
         .properties(width=W, height=H, padding=0, background="white",
                     autosize=alt.AutoSizeParams(type="none"))
         .configure_view(strokeWidth=0))

chart.save("out.html", embed_options={"renderer": "svg", "actions": False})
